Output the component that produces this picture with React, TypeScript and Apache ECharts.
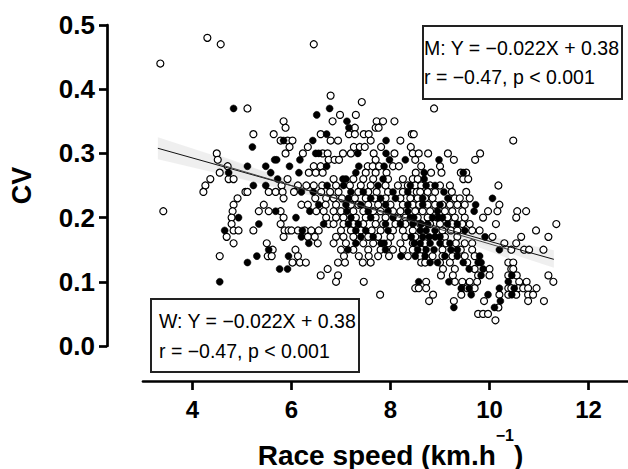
import React, { useEffect, useRef } from "react";
import * as echarts from "echarts";

const FONT = '"Liberation Sans", Arial, Helvetica, sans-serif';

// x-axis tick labels
const xTicks = [4, 6, 8, 10, 12];

// Men (open circles): [CV, race speeds at that CV]
const menRows: [number, number[]][] = [
  [0.48, [4.30]],
  [0.47, [4.57, 6.45]],
  [0.44, [3.35]],
  [0.39, [6.79]],
  [0.38, [7.42]],
  [0.37, [5.11, 8.88]],
  [0.36, [6.98, 7.30]],
  [0.35, [5.84, 6.83, 7.72, 7.85, 8.08]],
  [0.34, [5.88, 7.28, 7.70, 7.76]],
  [0.33, [5.23, 5.64, 6.59, 7.16, 7.28, 7.46, 7.56, 8.43, 8.47]],
  [0.32, [5.78, 5.92, 6.02, 6.79, 6.94, 7.60, 8.20, 10.48]],
  [0.31, [5.96, 6.33, 7.26, 7.38, 7.48, 7.81, 8.41]],
  [0.30, [4.49, 5.88, 6.23, 6.63, 6.73, 7.04, 7.20, 7.66, 8.08, 8.45, 8.57, 8.76, 9.16, 9.81]],
  [0.29, [4.51, 6.75, 6.87, 6.96, 7.70, 8.50, 9.28, 9.71]],
  [0.28, [4.71, 6.45, 6.59, 7.54, 7.64, 7.77, 8.05, 8.17, 8.62, 9.00]],
  [0.27, [4.55, 6.35, 6.49, 6.63, 7.50, 7.70, 7.92, 8.51, 8.82, 9.03, 9.42, 9.53]],
  [0.26, [4.36, 4.73, 4.83, 5.92, 6.85, 7.25, 7.45, 7.65, 7.95, 8.25, 8.45, 8.55, 9.47, 9.57]],
  [0.25, [4.26, 5.80, 6.13, 6.30, 6.45, 6.62, 6.90, 7.18, 7.40, 7.60, 7.90, 8.15, 8.35, 8.50, 8.62, 8.80, 9.00, 9.20, 10.18]],
  [0.24, [4.22, 5.07, 5.11, 5.54, 5.68, 5.82, 6.05, 6.60, 6.78, 6.95, 7.35, 7.55, 7.72, 7.95, 8.25, 8.45, 8.53, 8.60, 8.75, 8.90, 9.24, 9.53]],
  [0.23, [4.91, 5.84, 6.48, 6.70, 6.85, 7.02, 7.28, 7.50, 7.68, 7.90, 8.20, 8.40, 8.55, 8.70, 8.85, 9.30, 9.40, 9.60]],
  [0.22, [4.83, 5.44, 6.20, 6.33, 6.69, 6.90, 7.20, 7.35, 7.55, 7.75, 8.00, 8.25, 8.45, 8.58, 8.75, 8.90, 9.05, 9.20, 9.35, 9.50, 10.20]],
  [0.21, [3.41, 4.81, 5.34, 5.54, 5.78, 6.50, 6.65, 6.85, 7.00, 7.25, 7.45, 7.65, 7.80, 8.05, 8.20, 8.50, 8.65, 8.80, 9.10, 9.25, 9.45, 9.97, 10.16, 10.56, 10.74]],
  [0.20, [4.79, 5.84, 6.70, 6.90, 7.05, 7.30, 7.50, 7.70, 7.90, 8.15, 8.30, 8.55, 8.75, 8.95, 9.15, 9.30, 9.50, 9.87, 10.54]],
  [0.19, [4.79, 5.78, 6.75, 6.85, 7.05, 7.25, 7.45, 7.70, 7.85, 8.10, 8.30, 8.60, 8.80, 9.00, 9.25, 9.45, 9.60, 10.13, 11.35]],
  [0.18, [4.83, 4.93, 5.23, 5.86, 5.94, 6.00, 6.13, 6.27, 6.40, 6.55, 7.00, 7.20, 7.40, 7.62, 7.80, 8.05, 8.25, 8.45, 9.05, 9.22, 9.35, 9.65, 9.80, 10.94]],
  [0.17, [4.69, 5.84, 6.33, 6.47, 6.90, 7.05, 7.25, 7.55, 7.75, 8.00, 8.30, 8.50, 9.10, 9.35, 10.06, 10.64, 11.19]],
  [0.16, [4.83, 5.50, 6.53, 6.85, 7.10, 7.45, 7.65, 7.95, 8.20, 8.45, 8.70, 9.12, 9.32, 9.50, 9.65, 10.30, 10.54]],
  [0.15, [5.62, 6.08, 7.00, 7.25, 7.55, 7.80, 8.05, 8.25, 8.45, 8.62, 9.05, 9.42, 9.65, 10.44, 10.70, 10.80, 11.09]],
  [0.14, [4.55, 5.52, 5.60, 6.13, 7.06, 7.36, 7.56, 7.75, 7.97, 8.35, 8.60, 8.85, 9.05, 9.25, 9.50, 9.70]],
  [0.13, [6.02, 6.17, 6.29, 6.94, 7.08, 7.44, 7.60, 8.62, 8.70, 9.00, 9.20, 9.55, 10.38, 10.48]],
  [0.12, [6.73, 9.06, 9.30, 9.70, 10.00, 10.44, 10.48]],
  [0.11, [6.59, 6.94, 9.02, 9.26, 9.77, 10.00, 10.38, 10.55, 11.19]],
  [0.10, [6.90, 7.46, 8.72, 9.30, 9.45, 9.60, 9.75, 10.60, 10.75, 11.29]],
  [0.09, [8.50, 8.57, 8.72, 9.45, 9.55, 9.70, 10.38, 10.44, 10.58, 10.68, 10.78, 10.95]],
  [0.08, [7.79, 8.86, 9.43, 10.20, 10.38, 10.54, 10.78, 10.88]],
  [0.07, [8.78, 9.28, 9.89, 10.78, 11.10]],
  [0.06, [10.18]],
  [0.05, [9.77, 9.87, 9.97]],
  [0.04, [10.12]],
];

// Women (filled circles): [CV, race speeds at that CV]
const womenRows: [number, number[]][] = [
  [0.37, [4.83, 6.77]],
  [0.36, [6.51]],
  [0.35, [7.12]],
  [0.34, [7.16]],
  [0.33, [6.71]],
  [0.32, [5.84, 6.43, 7.91]],
  [0.31, [5.21]],
  [0.30, [6.49, 6.55, 7.34, 7.91]],
  [0.29, [5.66, 5.70, 6.17, 7.98, 8.30, 8.98]],
  [0.28, [5.11, 5.48, 5.96, 6.71, 7.36, 7.87]],
  [0.27, [4.73, 5.58, 6.15, 7.30, 8.68, 9.47]],
  [0.26, [5.72, 7.04, 7.10, 7.85, 8.68]],
  [0.25, [5.23, 5.48, 6.72, 7.05, 7.75, 8.40, 8.72, 8.90]],
  [0.24, [6.20, 6.44, 7.20, 7.45, 8.05, 8.35, 9.08]],
  [0.23, [7.15, 7.60, 7.80, 8.10, 8.65, 9.16, 10.06]],
  [0.22, [6.55, 7.10, 7.40, 7.90, 8.35, 8.65, 9.00, 9.72]],
  [0.21, [5.68, 6.37, 7.12, 7.55, 7.95, 8.35, 8.95, 9.69]],
  [0.20, [4.93, 6.09, 7.20, 7.60, 8.05, 8.40, 8.47, 8.85, 8.97, 9.05]],
  [0.19, [5.34, 6.65, 7.15, 7.35, 7.90, 8.20, 8.45, 8.62, 8.75, 9.15, 9.35]],
  [0.18, [4.65, 6.22, 7.30, 7.50, 7.95, 8.60, 8.72, 8.90, 9.50]],
  [0.17, [6.20, 7.40, 7.65, 8.42, 8.65, 8.78, 8.90, 9.00, 9.91]],
  [0.16, [6.35, 7.30, 7.81, 7.87, 8.48, 8.60, 8.80, 9.00, 9.20]],
  [0.15, [5.54, 7.14, 7.90, 8.55, 8.72, 8.88, 9.22, 9.35, 10.20]],
  [0.14, [5.30, 5.94, 8.21, 8.50, 8.70, 9.10, 9.35, 9.80]],
  [0.13, [5.11, 8.80, 8.95, 9.47, 9.77, 9.83]],
  [0.12, [5.76, 5.92, 9.59, 9.87]],
  [0.11, [9.83, 10.45]],
  [0.10, [4.55, 8.57, 9.18, 10.38]],
  [0.09, [9.43, 9.59, 10.20, 10.50]],
  [0.08, [9.63, 9.97, 10.45]],
  [0.07, [10.22]],
  [0.06, [9.28, 10.10]],
];

// Regression lines (end points)
const menLine: [number, number][] = [[3.3, 0.308], [11.3, 0.135]];
const womenLine: [number, number][] = [[4.5, 0.284], [10.4, 0.150]];

// 95% confidence bands
const menBandX = [3.3, 4.5, 5.5, 6.5, 7.5, 8.5, 9.5, 10.5, 11.3];
const menBandLo = [0.291, 0.269, 0.250, 0.232, 0.212, 0.191, 0.167, 0.142, 0.122];
const menBandHi = [0.325, 0.295, 0.270, 0.245, 0.222, 0.199, 0.179, 0.162, 0.149];
const womenBandX = [4.5, 6.0, 7.5, 9.0, 10.4];
const womenBandLo = [0.270, 0.243, 0.212, 0.176, 0.136];
const womenBandHi = [0.298, 0.257, 0.220, 0.186, 0.164];

// Annotation texts
const menText = ["M: Y = \u22120.022X + 0.38", "r = \u22120.47, p < 0.001"];
const womenText = ["W: Y = \u22120.022X + 0.38", "r = \u22120.47, p < 0.001"];

function flatten(rows: [number, number[]][]) {
  const out: [number, number][] = [];
  rows.forEach(([cv, xs]) => xs.forEach((x) => out.push([x, cv])));
  return out;
}

function bandSeries(xs: number[], lo: number[], hi: number[], z: number) {
  return {
    type: "custom",
    silent: true,
    z,
    data: xs.map((x, i) => [x, lo[i], hi[i]]),
    encode: { x: 0, y: [1, 2] },
    renderItem: (params: any, api: any) => {
      if (params.dataIndex !== 0) return null;
      const top = xs.map((x, i) => api.coord([x, hi[i]]));
      const bot = xs.map((x, i) => api.coord([x, lo[i]])).reverse();
      return {
        type: "polygon",
        shape: { points: top.concat(bot) },
        style: { fill: "#e6e6e6", opacity: 0.65 },
      };
    },
  };
}

export default function App() {
  const ref = useRef<HTMLDivElement>(null);
  useEffect(() => {
    if (!ref.current) return;
    const chart = echarts.init(ref.current, null, { renderer: "svg" });
    const boxText = (x: number, y: number, t: string) => ({
      type: "text",
      x,
      y,
      z: 101,
      style: { text: t, fontSize: 19.5, fontFamily: FONT, fill: "#000", verticalAlign: "middle" },
    });
    chart.setOption({
      animation: false,
      backgroundColor: "#fff",
      grid: {
        left: 143,
        width: 495,
        top: 25,
        height: 321,
        containLabel: false,
        outerBoundsMode: "none",
      },
      xAxis: {
        type: "value",
        min: 3,
        max: 13,
        offset: 35,
        axisLine: { onZero: false, lineStyle: { color: "#000", width: 2.7 } },
        axisTick: { customValues: xTicks, length: 9, lineStyle: { color: "#000", width: 2.7 } },
        axisLabel: {
          customValues: xTicks,
          fontSize: 24,
          fontWeight: "bold",
          fontFamily: FONT,
          color: "#000",
          margin: 16,
        },
        splitLine: { show: false },
        name: "{t|Race speed (km.h}{s|\u22121}{t|)}",
        nameLocation: "middle",
        nameGap: 46,
        nameTextStyle: {
          rich: {
            t: { fontSize: 28, fontWeight: "bold", fontFamily: FONT, color: "#000", lineHeight: 56 },
            s: { fontSize: 16, fontWeight: "bold", fontFamily: FONT, color: "#000", verticalAlign: "top", lineHeight: 16 },
          },
        },
      },
      yAxis: {
        type: "value",
        min: 0,
        max: 0.5,
        interval: 0.1,
        offset: 36,
        axisLine: { show: true, onZero: false, lineStyle: { color: "#000", width: 2.7 } },
        axisTick: { show: true, length: 8, lineStyle: { color: "#000", width: 2.7 } },
        axisLabel: {
          formatter: (v: number) => v.toFixed(1),
          fontSize: 26,
          fontWeight: "bold",
          fontFamily: FONT,
          color: "#000",
          margin: 12,
        },
        splitLine: { show: false },
        name: "CV",
        nameLocation: "middle",
        nameGap: 72,
        nameTextStyle: { fontSize: 27, fontWeight: "bold", fontFamily: FONT, color: "#000" },
      },
      series: [
        bandSeries(menBandX, menBandLo, menBandHi, 1),
        bandSeries(womenBandX, womenBandLo, womenBandHi, 1),
        {
          type: "scatter",
          name: "M",
          z: 2,
          symbol: "circle",
          symbolSize: 7,
          data: flatten(menRows),
          itemStyle: { color: "#fff", borderColor: "#000", borderWidth: 1.2, opacity: 1 },
        },
        {
          type: "scatter",
          name: "W",
          z: 3,
          symbol: "circle",
          symbolSize: 7,
          data: flatten(womenRows),
          itemStyle: { color: "#000", borderColor: "#000", borderWidth: 0.5, opacity: 1 },
        },
        {
          type: "line",
          z: 4,
          data: menLine,
          showSymbol: false,
          silent: true,
          lineStyle: { color: "#111", width: 1 },
        },
        {
          type: "line",
          z: 4,
          data: womenLine,
          showSymbol: false,
          silent: true,
          lineStyle: { color: "#444", width: 1 },
        },
      ],
      graphic: [
        {
          type: "rect",
          z: 100,
          shape: { x: 423, y: 26, width: 199, height: 73 },
          style: { fill: "#fff", stroke: "#222", lineWidth: 2 },
        },
        boxText(424, 48, menText[0]),
        boxText(424, 77, menText[1]),
        {
          type: "rect",
          z: 100,
          shape: { x: 151, y: 299, width: 208, height: 73 },
          style: { fill: "#fff", stroke: "#222", lineWidth: 2 },
        },
        boxText(159, 321, womenText[0]),
        boxText(159, 351, womenText[1]),
      ],
    });
    return () => chart.dispose();
  }, []);
  return (
    <div
      ref={ref}
      style={{ position: "fixed", left: 0, top: 0, width: 628, height: 469, background: "#fff" }}
    />
  );
}
